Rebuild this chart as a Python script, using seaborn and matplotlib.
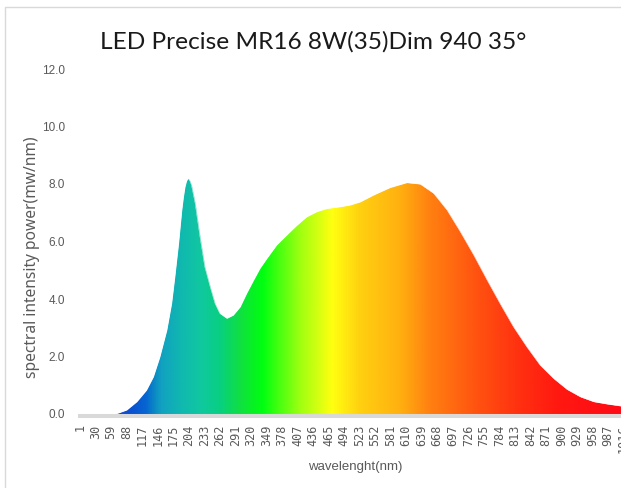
import numpy as np
import matplotlib
matplotlib.use("Agg")
import matplotlib.pyplot as plt
from matplotlib.colors import LinearSegmentedColormap
from matplotlib.patches import Rectangle
import seaborn as sns

# 数据: 光谱曲线 (类别序号 -> 功率)
sample_index = [1, 60, 70, 88, 107, 125, 138, 150, 163, 172, 178, 185, 191, 194, 197,
                200, 203, 206, 209, 212, 216, 225, 234, 244, 253, 262, 275, 287, 300,
                312, 325, 337, 350, 368, 387, 406, 424, 443, 462, 486, 505, 524, 549,
                580, 611, 636, 661, 686, 711, 736, 761, 785, 810, 835, 860, 885, 910,
                935, 960, 985, 1011, 1041]
power = [0.00, 0.01, 0.02, 0.14, 0.43, 0.83, 1.30, 1.99, 2.92, 3.85, 4.78, 5.94, 7.10,
         7.55, 7.91, 8.12, 8.20, 8.12, 7.97, 7.70, 7.33, 6.17, 5.12, 4.43, 3.85, 3.50,
         3.33, 3.44, 3.73, 4.20, 4.66, 5.07, 5.42, 5.88, 6.23, 6.57, 6.86, 7.04, 7.15,
         7.21, 7.27, 7.38, 7.62, 7.88, 8.05, 8.00, 7.68, 7.10, 6.34, 5.53, 4.66, 3.85,
         3.04, 2.34, 1.70, 1.24, 0.86, 0.60, 0.43, 0.35, 0.28, 0.24]

n_categories = 1041
tick_labels = [str(v) for v in range(1, n_categories + 1, 29)]
y_ticks = [0.0, 2.0, 4.0, 6.0, 8.0, 10.0, 12.0]

title = "LED Precise MR16 8W(35)Dim 940 35°"
x_label = "wavelenght(nm)"
y_label = "spectral intensity power(mw/nm)"

# 渐变色 (按类别位置)
grad_pos = [1, 94, 122, 150, 188, 225, 262, 300, 341, 412, 472, 524, 599, 655, 748,
            823, 897, 1041]
grad_col = ["#3040e0", "#0a50d0", "#0565d0", "#10a0c0", "#10b8b0", "#10c8a0",
            "#08d080", "#10e040", "#00ff10", "#a0ff10", "#ffff10", "#ffd010",
            "#ffb010", "#ff8010", "#ff5010", "#ff3010", "#ff1810", "#ff0818"]

sns.set_theme(style="white")
plt.rcParams['font.family'] = ['DejaVu Sans']

fig = plt.figure(figsize=(6.21, 4.88), dpi=100)
ax = fig.add_axes([80 / 621, (488 - 414) / 488, (637 - 80) / 621, (414 - 69) / 488])

stops = [(p - 1) / (n_categories - 1) for p in grad_pos]
cmap = LinearSegmentedColormap.from_list("spec", list(zip(stops, grad_col)))
gradient = np.linspace(0, 1, 1200).reshape(1, -1)
ax.imshow(gradient, cmap=cmap, aspect="auto", extent=(1, n_categories, -0.07, 12),
          zorder=1, interpolation="bilinear")

# 曲线以上用白色遮住 (左右各多出一点, 避免边缘漏色)
mask_x = np.r_[-20, sample_index, n_categories + 20]
mask_y = np.r_[power[0], power, power[-1]]
ax.fill_between(mask_x, mask_y, 12.5, color="white", lw=0, zorder=2)
ax.fill_between([-20, 1.6], -0.1, 12.5, color="white", lw=0, zorder=2)
sns.lineplot(x=sample_index, y=power, ax=ax, color="white", lw=0.3, zorder=3)

ax.set_xlim(1, n_categories)
ax.set_ylim(0, 12)
ax.tick_params(axis="both", length=0)
ax.tick_params(axis="x", pad=6, labelrotation=90, labelsize=8.5, labelcolor="#595959",
               labelfontfamily="DejaVu Sans Mono")
ax.tick_params(axis="y", pad=11, labelsize=8.5, labelcolor="#595959",
               labelfontfamily="Liberation Sans")
ax.set_xticks(list(range(1, n_categories + 1, 29)), tick_labels)
ax.set_yticks(y_ticks, [f"{v:.1f}" for v in y_ticks])

sns.despine(ax=ax, left=True)
ax.spines["bottom"].set_color("#d9d9d9")
ax.spines["bottom"].set_linewidth(2.9)
ax.spines["bottom"].set_position(("outward", 1.4))
ax.spines["bottom"].set_zorder(5)

ax.set_xlabel(x_label, fontsize=9.5, color="#595959", family="Liberation Sans")
ax.xaxis.set_label_coords(355 / 621, 1 - 461 / 488, transform=fig.transFigure)
ax.set_ylabel(y_label, fontsize=11.2, color="#595959", family=["Noto Sans", "DejaVu Sans"])
ax.yaxis.set_label_coords(40 / 621, 1 - 257 / 488, transform=fig.transFigure)

fig.text(313 / 621, 1 - 42 / 488, title, ha="center", va="center", fontsize=17.6,
         color="#1a1a1a", family=["Lato", "DejaVu Sans"])

fig.patches.append(Rectangle((5 / 621, -0.1), 2, 1 - 7 / 488 + 0.1,
                             transform=fig.transFigure, fill=False,
                             ec="#d9d9d9", lw=1))

fig.savefig("out.png", dpi=100)
